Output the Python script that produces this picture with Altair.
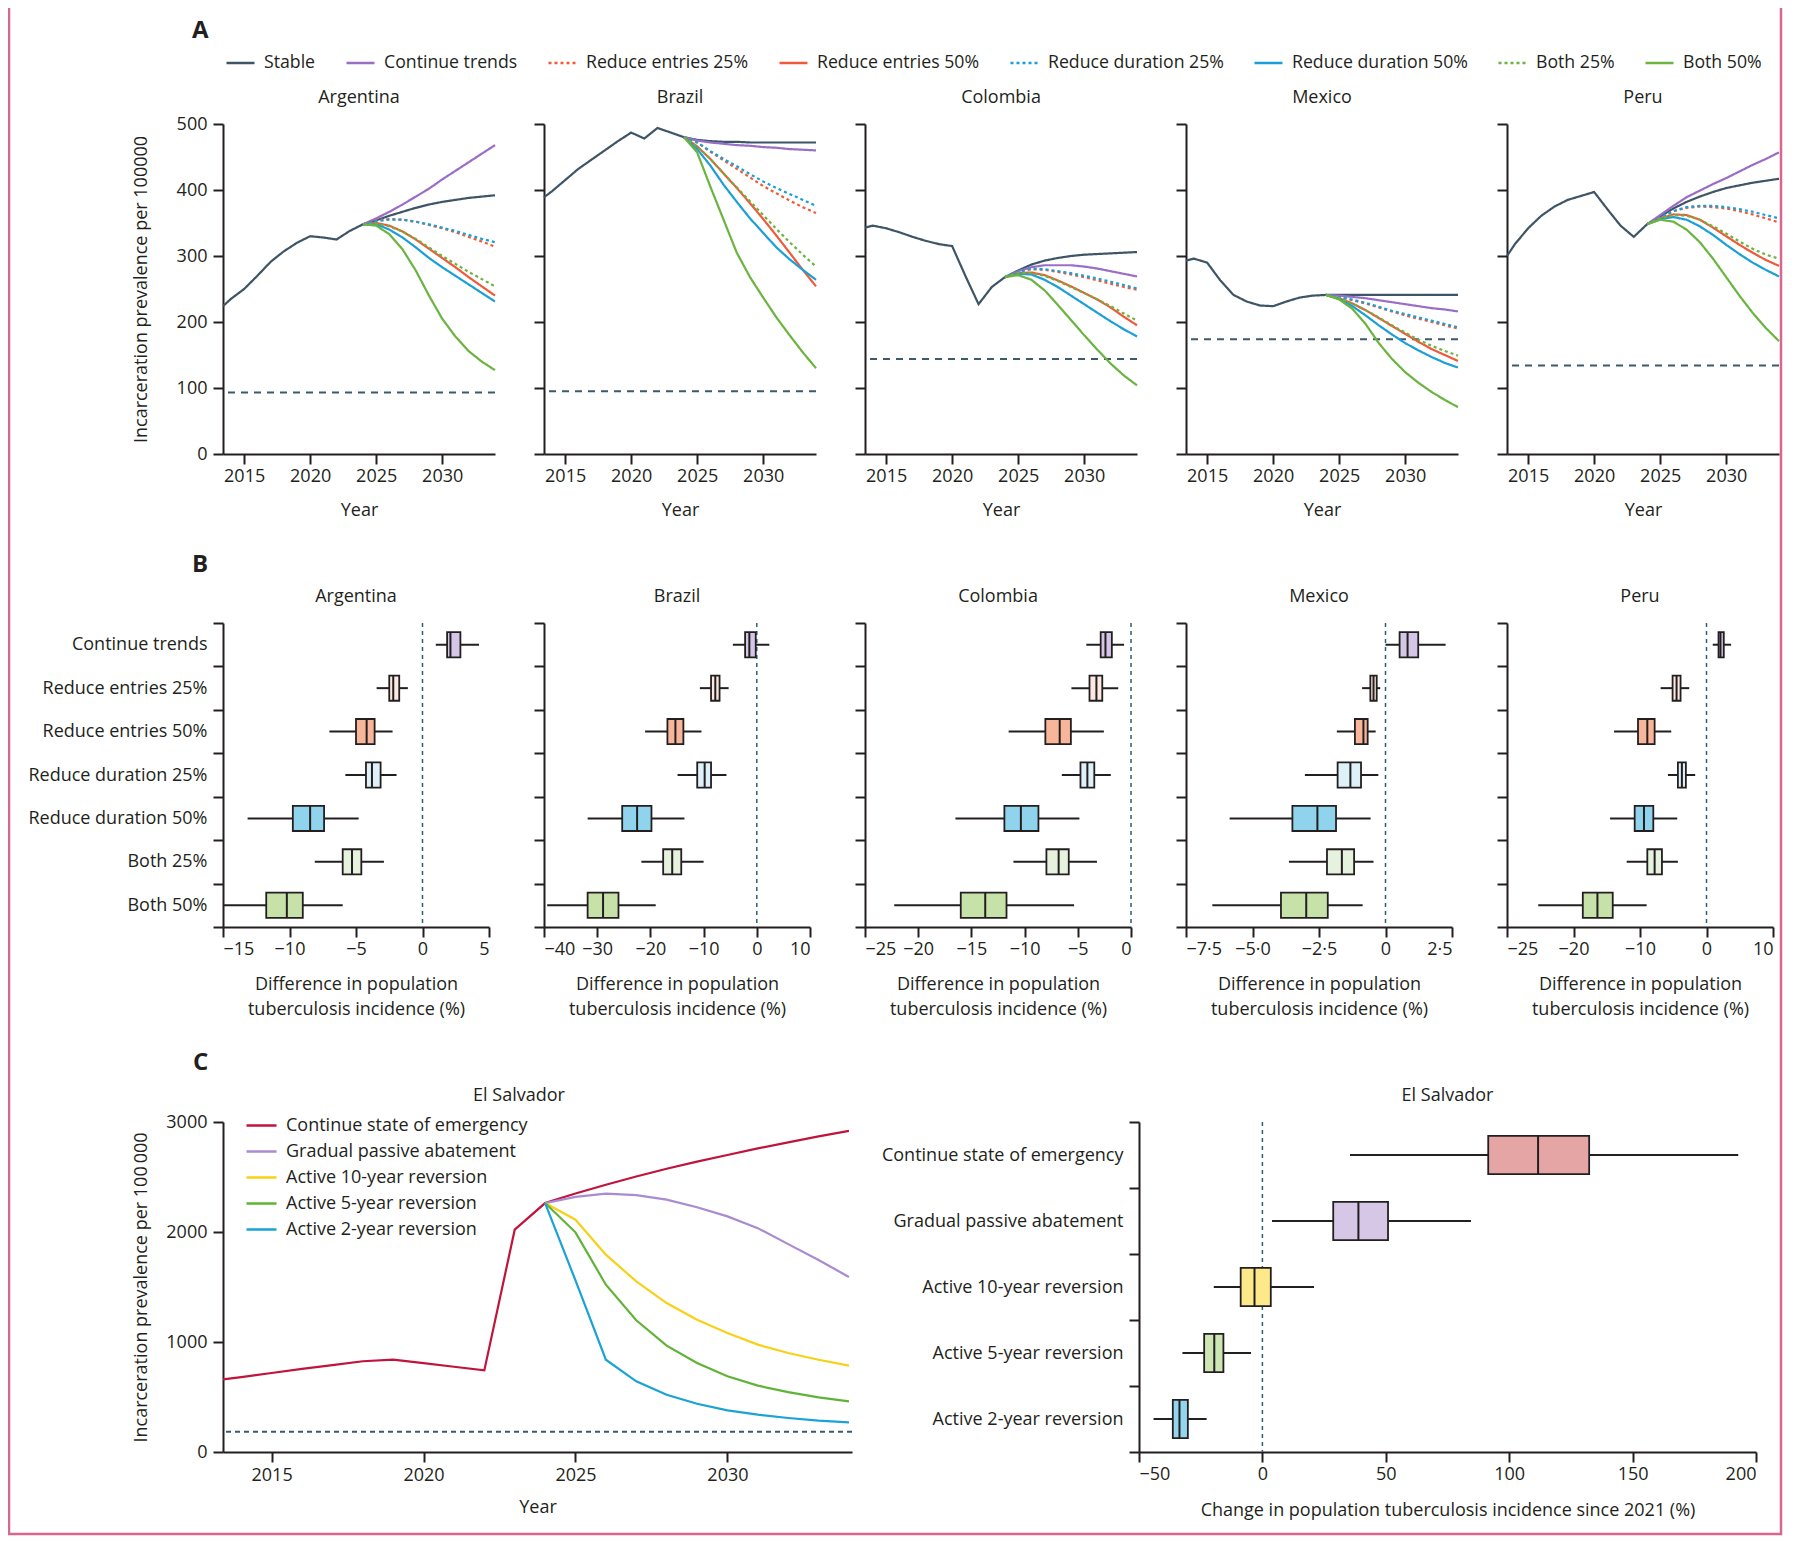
import altair as alt
import pandas as pd

FONT = "Open Sans"
INK = "#231f20"
REFCOL = "#3b5a6c"
FRAME = "#d9668f"

# ---------------- Panel A data ----------------
SERIES = ["Stable", "Continue trends", "Reduce entries 25%", "Reduce entries 50%",
          "Reduce duration 25%", "Reduce duration 50%", "Both 25%", "Both 50%"]
LINE_COLORS = ["#3d5566", "#9a6dc6", "#f05a3a", "#f05a3a", "#1b9fd8", "#1b9fd8", "#6ab43f", "#6ab43f"]
LINE_DASHES = [[1, 0], [1, 0], [3, 3], [1, 0], [3, 3], [1, 0], [3, 3], [1, 0]]

HIST_YEARS = [2013.4, 2014, 2015, 2016, 2017, 2018, 2019, 2020, 2021, 2022, 2023, 2024]
PROJ_YEARS = [2024, 2025, 2026, 2027, 2028, 2029, 2030, 2031, 2032, 2033, 2034]

ARG_HIST = [224, 235, 250, 270, 291, 307, 320, 330, 328, 325, 338, 348]
ARG_PROJ = {
    "Stable": [348, 354, 361, 367, 373, 378, 382, 385, 388, 390, 392],
    "Continue trends": [348, 357, 367, 378, 390, 402, 416, 429, 442, 455, 468],
    "Reduce entries 25%": [348, 354, 356, 355, 352, 347, 342, 336, 329, 322, 314],
    "Reduce entries 50%": [348, 350, 346, 337, 325, 311, 297, 283, 268, 254, 240],
    "Reduce duration 25%": [348, 353, 355, 355, 352, 348, 343, 338, 332, 326, 321],
    "Reduce duration 50%": [348, 348, 340, 328, 313, 297, 283, 270, 257, 244, 231],
    "Both 25%": [348, 349, 345, 337, 326, 313, 300, 288, 276, 265, 254],
    "Both 50%": [348, 346, 333, 310, 278, 240, 205, 178, 156, 140, 127],
}
BRA_HIST = [389, 398, 415, 432, 446, 460, 474, 487, 478, 494, 487, 480]
BRA_PROJ = {
    "Stable": [480, 476, 474, 473, 473, 472, 472, 472, 472, 472, 472],
    "Continue trends": [480, 475, 472, 470, 468, 467, 465, 464, 462, 461, 460],
    "Reduce entries 25%": [480, 472, 458, 445, 432, 419, 406, 395, 384, 374, 365],
    "Reduce entries 50%": [480, 466, 447, 425, 403, 380, 356, 331, 305, 279, 254],
    "Reduce duration 25%": [480, 472, 459, 447, 436, 424, 413, 403, 394, 385, 376],
    "Reduce duration 50%": [480, 462, 437, 408, 382, 357, 335, 313, 295, 279, 264],
    "Both 25%": [480, 466, 447, 425, 404, 383, 362, 341, 321, 302, 284],
    "Both 50%": [480, 457, 405, 355, 305, 268, 237, 207, 180, 154, 130],
}
COL_HIST = [343, 346, 342, 336, 329, 323, 318, 315, 270, 227, 253, 268]
COL_PROJ = {
    "Stable": [268, 278, 287, 293, 297, 300, 302, 303, 304, 305, 306],
    "Continue trends": [268, 277, 283, 286, 286, 286, 284, 281, 277, 273, 269],
    "Reduce entries 25%": [268, 276, 280, 279, 276, 272, 268, 263, 258, 253, 249],
    "Reduce entries 50%": [268, 274, 275, 271, 263, 254, 244, 234, 222, 208, 195],
    "Reduce duration 25%": [268, 276, 281, 280, 277, 274, 270, 266, 261, 256, 251],
    "Reduce duration 50%": [268, 273, 272, 264, 253, 240, 227, 214, 201, 189, 178],
    "Both 25%": [268, 274, 274, 270, 262, 253, 244, 234, 224, 213, 202],
    "Both 50%": [268, 271, 264, 248, 226, 203, 180, 158, 137, 119, 104],
}
MEX_HIST = [293, 296, 290, 263, 241, 231, 225, 224, 231, 237, 240, 241]
MEX_PROJ = {
    "Stable": [241, 241, 241, 241, 241, 241, 241, 241, 241, 241, 241],
    "Continue trends": [241, 240, 238, 236, 233, 230, 227, 224, 221, 219, 216],
    "Reduce entries 25%": [241, 238, 233, 228, 222, 216, 210, 205, 200, 195, 190],
    "Reduce entries 50%": [241, 236, 228, 218, 206, 194, 182, 170, 159, 150, 141],
    "Reduce duration 25%": [241, 238, 234, 229, 223, 217, 212, 207, 202, 197, 192],
    "Reduce duration 50%": [241, 235, 224, 210, 195, 181, 168, 157, 147, 138, 131],
    "Both 25%": [241, 236, 228, 218, 207, 195, 184, 173, 164, 156, 149],
    "Both 50%": [241, 234, 220, 197, 168, 144, 124, 108, 94, 82, 71],
}
PER_HIST = [300, 318, 342, 361, 375, 385, 391, 397, 371, 346, 329, 348]
PER_PROJ = {
    "Stable": [348, 360, 372, 382, 390, 397, 403, 407, 411, 414, 417],
    "Continue trends": [348, 362, 376, 389, 399, 409, 418, 428, 438, 447, 457],
    "Reduce entries 25%": [348, 358, 368, 373, 375, 374, 372, 368, 363, 357, 351],
    "Reduce entries 50%": [348, 357, 363, 362, 355, 343, 330, 317, 305, 294, 285],
    "Reduce duration 25%": [348, 358, 368, 374, 376, 376, 374, 371, 367, 362, 357],
    "Reduce duration 50%": [348, 356, 359, 355, 345, 332, 317, 303, 290, 279, 269],
    "Both 25%": [348, 357, 362, 361, 355, 345, 334, 322, 311, 302, 296],
    "Both 50%": [348, 355, 352, 340, 321, 296, 268, 240, 214, 191, 171],
}
COUNTRIES = ["Argentina", "Brazil", "Colombia", "Mexico", "Peru"]
HISTS = [ARG_HIST, BRA_HIST, COL_HIST, MEX_HIST, PER_HIST]
PROJS = [ARG_PROJ, BRA_PROJ, COL_PROJ, MEX_PROJ, PER_PROJ]
REF_LEVELS = [93, 95, 144, 174, 134]

# ---------------- Panel B data ----------------
SCENARIOS = ["Continue trends", "Reduce entries 25%", "Reduce entries 50%", "Reduce duration 25%",
             "Reduce duration 50%", "Both 25%", "Both 50%"]
BOX_FILLS = ["#d4c6e6", "#fce9df", "#f7b59a", "#def0f8", "#90d3ec", "#e6f1de", "#c6e2a8"]
# [min, q1, median, q3, max]
ARG_BOX = [[1.0, 1.85, 2.1, 2.85, 4.25], [-3.45, -2.5, -2.2, -1.75, -1.1], [-7.0, -5.0, -4.2, -3.6, -2.25],
           [-5.8, -4.25, -3.8, -3.15, -1.95], [-13.15, -9.75, -8.45, -7.4, -4.8], [-8.1, -6.0, -5.3, -4.6, -2.9],
           [-15.0, -11.75, -10.2, -9.0, -6.0]]
BRA_BOX = [[-4.5, -2.2, -1.4, -0.2, 2.35], [-10.7, -8.6, -7.8, -7.0, -5.3], [-21.0, -16.8, -15.3, -13.8, -10.4],
           [-14.9, -11.2, -9.8, -8.6, -5.7], [-31.8, -25.3, -22.5, -19.8, -13.6], [-21.7, -17.6, -15.9, -14.2, -10.0],
           [-39.4, -31.8, -28.9, -26.0, -19.0]]
COL_BOX = [[-4.2, -2.85, -2.4, -1.8, -0.65], [-5.6, -3.9, -3.25, -2.7, -1.2], [-11.5, -8.05, -6.7, -5.65, -2.55],
           [-6.5, -4.75, -4.1, -3.45, -1.9], [-16.5, -11.9, -10.35, -8.7, -4.85], [-11.05, -7.95, -6.8, -5.85, -3.2],
           [-22.25, -16.0, -13.7, -11.7, -5.35]]
MEX_BOX = [[0.0, 0.53, 0.83, 1.23, 2.26], [-0.88, -0.57, -0.45, -0.33, -0.2], [-1.83, -1.15, -0.83, -0.67, -0.37],
           [-3.03, -1.8, -1.32, -0.92, -0.27], [-5.86, -3.5, -2.56, -1.86, -0.56], [-3.63, -2.2, -1.64, -1.18, -0.45],
           [-6.51, -3.93, -2.98, -2.17, -0.86]]
PER_BOX = [[0.94, 1.81, 2.1, 2.6, 3.7], [-6.9, -5.1, -4.5, -3.9, -2.6], [-13.9, -10.3, -8.9, -7.8, -5.3],
           [-5.8, -4.3, -3.7, -3.1, -1.7], [-14.5, -10.8, -9.4, -8.0, -4.4], [-12.0, -8.9, -7.8, -6.7, -4.3],
           [-25.3, -18.6, -16.4, -14.1, -9.0]]
BOXES = [ARG_BOX, BRA_BOX, COL_BOX, MEX_BOX, PER_BOX]
B_DOMAINS = [[-15, 5], [-40, 10], [-25, 0], [-7.5, 2.5], [-30, 10]]
B_TICKS = [[-15, -10, -5, 0, 5], [-40, -30, -20, -10, 0, 10], [-25, -20, -15, -10, -5, 0],
           [-7.5, -5, -2.5, 0, 2.5], [-30, -20, -10, 0, 10]]
B_LABEL_EXPR = [None, None, None,
                "datum.value == 0 ? '0' : replace(format(datum.value, '.1f'), '.', '\u00b7')",
                "datum.value == -30 ? '\u221225' : format(datum.value, 'd')"]

# ---------------- Panel C data ----------------
C_SERIES = ["Continue state of emergency", "Gradual passive abatement", "Active 10-year reversion",
            "Active 5-year reversion", "Active 2-year reversion"]
C_COLORS = ["#c0143c", "#a98bd0", "#f7d117", "#5fb336", "#1aa3d4"]
C_YEARS = [2013.4, 2014, 2015, 2016, 2017, 2018, 2019, 2020, 2021, 2022, 2023, 2024,
           2025, 2026, 2027, 2028, 2029, 2030, 2031, 2032, 2033, 2034]
C_CONTINUE = [660, 680, 718, 755, 790, 825, 839, 808, 775, 742, 2021, 2263,
              2350, 2430, 2505, 2575, 2640, 2700, 2760, 2815, 2870, 2920]
C_PROJ_YEARS = [2024, 2025, 2026, 2027, 2028, 2029, 2030, 2031, 2032, 2033, 2034]
C_GRADUAL = [2263, 2320, 2348, 2336, 2294, 2225, 2142, 2035, 1890, 1745, 1591]
C_ACTIVE10 = [2263, 2112, 1794, 1551, 1354, 1203, 1082, 976, 900, 839, 785]
C_ACTIVE5 = [2263, 1997, 1521, 1197, 967, 809, 688, 603, 545, 497, 461]
C_ACTIVE2 = [2263, 1560, 839, 642, 521, 439, 379, 339, 309, 285, 270]
C_REF = 185
C_BOX = [[35.5, 91.5, 111.7, 132.4, 192.8], [3.9, 28.7, 38.9, 50.9, 84.5], [-19.7, -8.8, -3.2, 3.4, 20.9],
         [-32.4, -23.6, -19.5, -15.8, -4.6], [-44.1, -36.3, -33.6, -30.2, -22.6]]
C_BOX_FILLS = ["#e6a5a5", "#d6c7e6", "#fde98a", "#cde6b3", "#93d5ee"]

A_W, A_H = 272, 330
B_W, B_H = 266, 304
CL_W, CR_W, C_H = 629, 617, 330


def label_text(text, x, y, size=18, weight="normal", align="center"):
    return alt.Chart(pd.DataFrame({"t": [text]})).mark_text(
        font=FONT, fontSize=size, fontWeight=weight, color=INK, align=align, baseline="middle"
    ).encode(text="t:N", x=alt.value(x), y=alt.value(y))


LEGEND_A = alt.Legend(title=None, orient="none", legendX=2, legendY=-77, direction="horizontal",
                      columns=8, symbolType="stroke", symbolSize=784, symbolStrokeWidth=2.5,
                      labelFontSize=17.7, labelFont=FONT, labelColor=INK, labelOffset=8,
                      columnPadding=25, labelLimit=400)


def line_panel(i):
    name = COUNTRIES[i]
    first = i == 0
    rows = []
    for yr, v in zip(HIST_YEARS, HISTS[i]):
        rows.append({"series": "Stable", "year": yr, "value": v})
    for s in SERIES:
        for yr, v in zip(PROJ_YEARS, PROJS[i][s]):
            if s == "Stable" and yr == 2024:
                continue
            rows.append({"series": s, "year": yr, "value": v})
    df = pd.DataFrame(rows)
    x = alt.X("year:Q", scale=alt.Scale(domain=[2013.4, 2034], nice=False, zero=False),
              axis=alt.Axis(values=[2015, 2020, 2025, 2030], format="d", title="Year",
                            labelPadding=3, titlePadding=16))
    yaxis = dict(values=[0, 100, 200, 300, 400, 500], labelPadding=6)
    if first:
        yaxis.update(title="Incarceration prevalence per 100000", titlePadding=26)
    else:
        yaxis.update(labels=False, title=None)
    y = alt.Y("value:Q", scale=alt.Scale(domain=[0, 500], nice=False), axis=alt.Axis(**yaxis))
    ref = alt.Chart(pd.DataFrame({"value": [REF_LEVELS[i]]})).mark_rule(
        strokeDash=[7, 6], strokeWidth=2, color=REFCOL).encode(y=y)
    lines = alt.Chart(df).mark_line(strokeWidth=2.2).encode(
        x=x, y=y,
        color=alt.Color("series:N", scale=alt.Scale(domain=SERIES, range=LINE_COLORS), legend=LEGEND_A),
        strokeDash=alt.StrokeDash("series:N", scale=alt.Scale(domain=SERIES, range=LINE_DASHES), legend=LEGEND_A),
    )
    layers = [ref, lines, label_text(name, A_W / 2, -26)]
    if first:
        layers.append(label_text("A", -31, -93, size=24, weight="bold", align="left"))
        # page frame of the figure (decorative border)
        layers.append(alt.Chart(pd.DataFrame({"f": [0]})).mark_rect(
            fillOpacity=0, stroke=FRAME, strokeWidth=2.5).encode(
            x=alt.value(-214), x2=alt.value(1558), y=alt.value(-140), y2=alt.value(1410)))
    return alt.layer(*layers).properties(width=A_W, height=A_H)


def box_layers(cats, boxes, fills, domain, ticks, xtitle, label_expr, show_labels, title, title_x, tpad):
    df = pd.DataFrame({
        "scenario": cats,
        "lo": [b[0] for b in boxes], "q1": [b[1] for b in boxes], "med": [b[2] for b in boxes],
        "q3": [b[3] for b in boxes], "hi": [b[4] for b in boxes], "fill": fills,
    })
    axis_kw = dict(values=ticks, title=xtitle, labelPadding=3, titlePadding=tpad, titleLineHeight=25)
    if label_expr:
        axis_kw["labelExpr"] = label_expr
    xscale = alt.Scale(domain=domain, nice=False, zero=False)

    def X(f):
        return alt.X(f"{f}:Q", scale=xscale, axis=alt.Axis(**axis_kw))

    yaxis = dict(title=None, tickBand="extent", labelPadding=6, labelLimit=400)
    if not show_labels:
        yaxis["labels"] = False
    y = alt.Y("scenario:N", sort=cats, scale=alt.Scale(domain=cats, paddingInner=0, paddingOuter=0),
              axis=alt.Axis(**yaxis))
    base = alt.Chart(df)
    zero = alt.Chart(pd.DataFrame({"z": [0]})).mark_rule(
        strokeDash=[4, 4], strokeWidth=1.5, color="#2f5f73").encode(x=X("z"))
    whisk = base.mark_rule(strokeWidth=2, color=INK).encode(x=X("lo"), x2="hi:Q", y=y)
    box = base.mark_bar(height={"band": 0.58}, stroke=INK, strokeWidth=1.8).encode(
        x=X("q1"), x2="q3:Q", y=y, fill=alt.Fill("fill:N", scale=None))
    med = base.mark_bar(height={"band": 0.58}, stroke=INK, strokeWidth=2).encode(
        x=X("med"), x2="med:Q", y=y)
    return [zero, whisk, box, med, label_text(title, title_x, -26)]


def box_panel(i):
    layers = box_layers(SCENARIOS, BOXES[i], BOX_FILLS, B_DOMAINS[i], B_TICKS[i],
                        ["Difference in population", "tuberculosis incidence (%)"],
                        B_LABEL_EXPR[i], i == 0, COUNTRIES[i], B_W / 2, 17)
    if i == 0:
        layers.append(label_text("B", -31, -58, size=24, weight="bold", align="left"))
    return alt.layer(*layers).properties(width=B_W, height=B_H)


row_a = alt.hconcat(*[line_panel(i) for i in range(5)], spacing=321 - A_W, bounds="flush")
row_b = alt.hconcat(*[box_panel(i) for i in range(5)], spacing=321 - B_W, bounds="flush")

# ---- Panel C left ----
c_rows = [{"series": C_SERIES[0], "year": yr, "value": v} for yr, v in zip(C_YEARS, C_CONTINUE)]
for s, vals in zip(C_SERIES[1:], [C_GRADUAL, C_ACTIVE10, C_ACTIVE5, C_ACTIVE2]):
    c_rows += [{"series": s, "year": yr, "value": v} for yr, v in zip(C_PROJ_YEARS, vals)]
c_df = pd.DataFrame(c_rows)
cx = alt.X("year:Q", scale=alt.Scale(domain=[2013.4, 2034.1], nice=False, zero=False),
           axis=alt.Axis(values=[2015, 2020, 2025, 2030], format="d", title="Year",
                         labelPadding=4, titlePadding=14))
cy = alt.Y("value:Q", scale=alt.Scale(domain=[0, 3000], nice=False),
           axis=alt.Axis(values=[0, 1000, 2000, 3000], format="d",
                         title="Incarceration prevalence per 100\u2009000", titlePadding=15, labelPadding=6))
c_ref = alt.Chart(pd.DataFrame({"value": [C_REF]})).mark_rule(
    strokeDash=[5, 4], strokeWidth=2, color=REFCOL).encode(y=cy)
c_lines = alt.Chart(c_df).mark_line(strokeWidth=2.2).encode(
    x=cx, y=cy,
    color=alt.Color("series:N", scale=alt.Scale(domain=C_SERIES, range=C_COLORS),
                    legend=alt.Legend(title=None, orient="none", legendX=22, legendY=-13,
                                      direction="vertical", symbolType="stroke", symbolSize=900,
                                      symbolStrokeWidth=2.5, labelFontSize=18, labelFont=FONT,
                                      labelColor=INK, labelOffset=8, rowPadding=-4, labelLimit=400)),
)
c_left = alt.layer(c_ref, c_lines, label_text("El Salvador", 296, -26),
                   label_text("C", -30, -59, size=24, weight="bold", align="left")
                   ).properties(width=CL_W, height=C_H)

c_right = alt.layer(*box_layers(C_SERIES, C_BOX, C_BOX_FILLS, [-50, 200], [-50, 0, 50, 100, 150, 200],
                                "Change in population tuberculosis incidence since 2021 (%)", None, True,
                                "El Salvador", CR_W / 2, 18)).properties(width=CR_W, height=C_H)

row_c = alt.hconcat(c_left, c_right, spacing=1139 - (223 + CL_W), bounds="flush")

chart = alt.vconcat(row_a, row_b, row_c, spacing=499, bounds="flush").resolve_scale(
    color="independent", strokeDash="independent"
).resolve_legend(color="independent", strokeDash="independent").properties(
    autosize=alt.AutoSizeParams(type="none"),
    padding={"left": 215, "top": 116, "right": 1560, "bottom": 1412},
).configure_axis(
    domainColor=INK, domainWidth=2, tickColor=INK, tickWidth=2, tickSize=10,
    labelFont=FONT, labelFontSize=18, labelColor=INK,
    titleFont=FONT, titleFontSize=18, titleFontWeight="normal", titleColor=INK, grid=False,
).configure_view(stroke=None).configure_legend(padding=0)

chart.save("out.html", embed_options={"renderer": "svg", "actions": False})
